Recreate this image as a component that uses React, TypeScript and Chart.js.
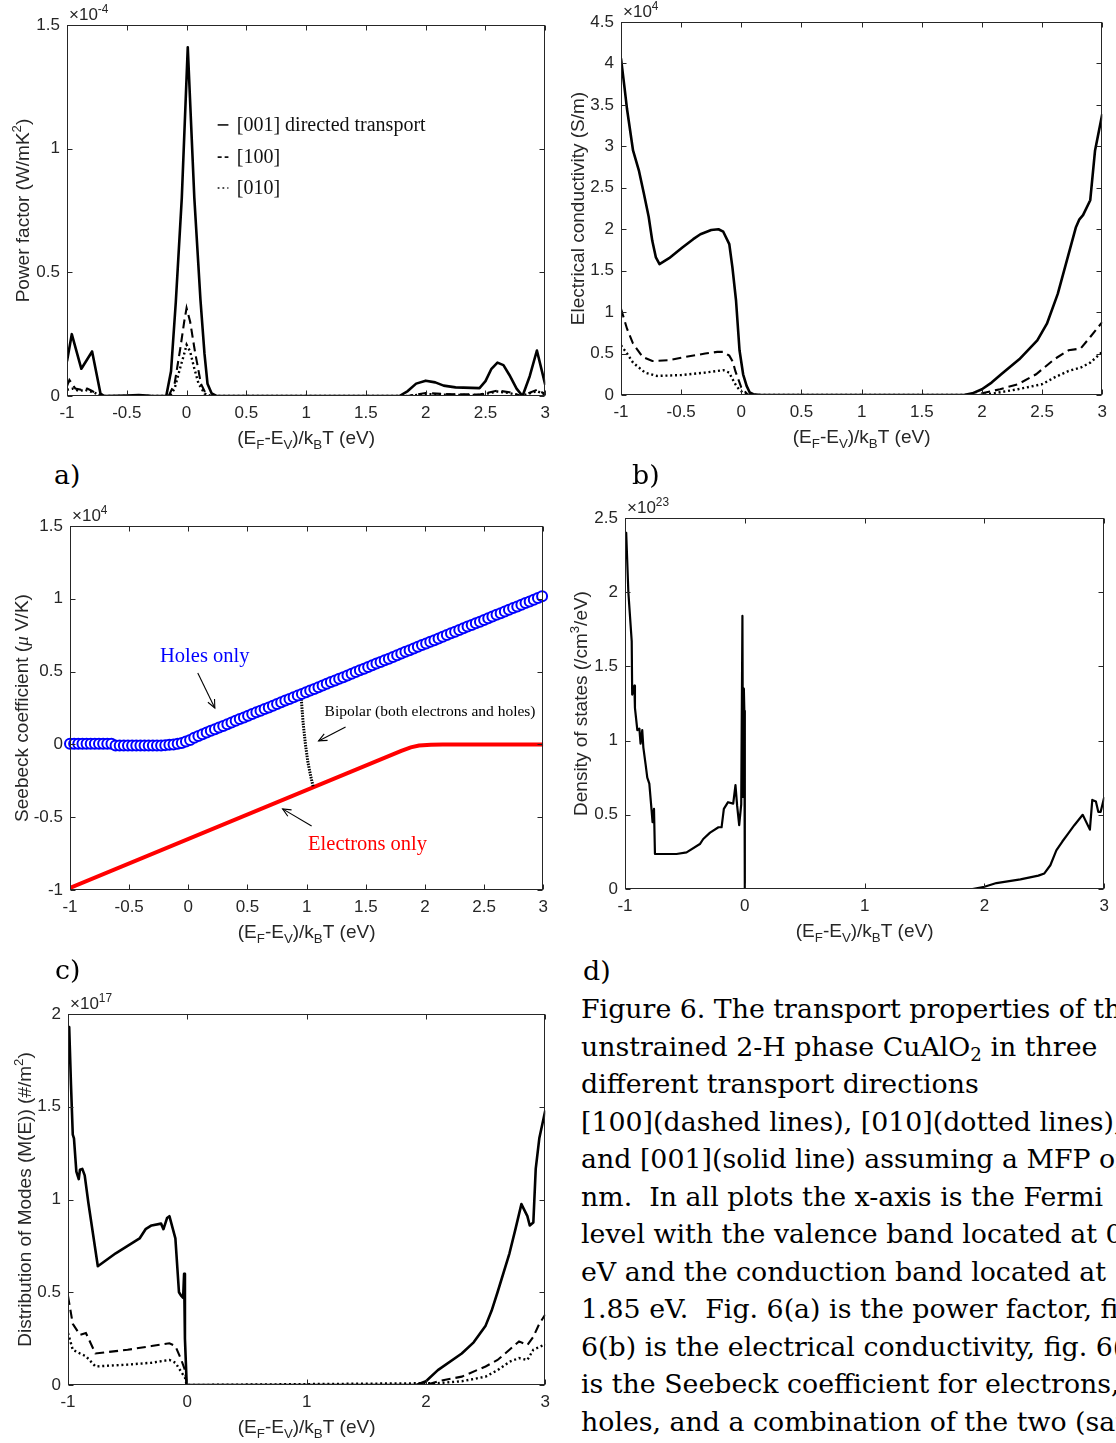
import React, { useEffect, useRef } from "react";
import { Chart, registerables } from "chart.js";

Chart.register(...registerables);

// ---------------- data ----------------
// shared tick values
const X_TICKS_HALF = [-1, -0.5, 0, 0.5, 1, 1.5, 2, 2.5, 3];
const X_TICKS_UNIT = [-1, 0, 1, 2, 3];
const Y_TICKS_A = [0, 0.5, 1, 1.5];
const Y_TICKS_B = [0, 0.5, 1, 1.5, 2, 2.5, 3, 3.5, 4, 4.5];
const Y_TICKS_C = [-1, -0.5, 0, 0.5, 1, 1.5];
const Y_TICKS_D = [0, 0.5, 1, 1.5, 2, 2.5];
const Y_TICKS_E = [0, 0.5, 1, 1.5, 2];

// (a) power factor, x1e-4 W/mK^2
const A_E_001 = [-1, -0.96, -0.88, -0.79, -0.72, -0.69, -0.5, -0.4, -0.3, -0.2, -0.17, -0.13, -0.09, -0.04, 0.01, 0.065, 0.116, 0.15, 0.175, 0.21, 0.25, 1.78, 1.85, 1.92, 2.0, 2.08, 2.15, 2.25, 2.45, 2.5, 2.55, 2.6, 2.65, 2.7, 2.76, 2.81, 2.87, 2.93, 3.0];
const A_PF_001 = [0.14, 0.25, 0.11, 0.18, 0.01, 0, 0.002, 0.004, 0.001, 0, 0, 0.1, 0.38, 0.8, 1.41, 0.8, 0.39, 0.17, 0.05, 0.01, 0, 0, 0.02, 0.05, 0.062, 0.055, 0.042, 0.035, 0.032, 0.06, 0.11, 0.135, 0.125, 0.085, 0.03, 0, 0.08, 0.184, 0.045];
const A_E_100 = [-1, -0.98, -0.93, -0.88, -0.83, -0.79, -0.72, -0.69, -0.15, -0.1, -0.05, -0.02, 0.0, 0.03, 0.07, 0.12, 0.16, 0.2, 1.85, 2.0, 2.15, 2.45, 2.6, 2.7, 2.8, 2.93, 3.0];
const A_PF_100 = [0.04, 0.065, 0.03, 0.025, 0.03, 0.02, 0.003, 0, 0, 0.05, 0.2, 0.3, 0.356, 0.3, 0.18, 0.05, 0.01, 0, 0, 0.012, 0.008, 0.006, 0.022, 0.015, 0, 0.025, 0.008];
const A_E_010 = [-1, -0.95, -0.9, -0.85, -0.78, -0.72, -0.69, -0.14, -0.1, -0.05, -0.02, 0.0, 0.03, 0.06, 0.1, 0.15, 0.2, 1.85, 2.0, 2.2, 2.45, 2.6, 2.7, 2.8, 2.93, 3.0];
const A_PF_010 = [0.025, 0.03, 0.02, 0.025, 0.015, 0.002, 0, 0, 0.03, 0.12, 0.17, 0.207, 0.18, 0.12, 0.05, 0.01, 0, 0, 0.008, 0.005, 0.004, 0.018, 0.012, 0, 0.02, 0.006];
const A_LEGEND_LABELS = ["[001] directed transport", "[100]", "[010]"];
const A_LEGEND_Y = [1.096, 0.966, 0.841];

// (b) electrical conductivity, x1e4 S/m
const B_E_001 = [-1, -0.97, -0.95, -0.9, -0.85, -0.81, -0.77, -0.74, -0.71, -0.68, -0.6, -0.49, -0.4, -0.34, -0.25, -0.19, -0.15, -0.1, -0.074, -0.044, -0.015, 0.015, 0.044, 0.07, 0.1, 0.16, 1.85, 1.92, 2.0, 2.08, 2.16, 2.31, 2.46, 2.54, 2.63, 2.72, 2.78, 2.81, 2.84, 2.9, 2.94, 3.0];
const B_S_001 = [4.06, 3.7, 3.45, 2.95, 2.7, 2.43, 2.15, 1.86, 1.66, 1.58, 1.65, 1.78, 1.88, 1.94, 1.99, 2.0, 1.97, 1.82, 1.54, 1.14, 0.54, 0.25, 0.11, 0.03, 0.01, 0, 0, 0.02, 0.07, 0.15, 0.25, 0.43, 0.66, 0.86, 1.22, 1.7, 2.02, 2.12, 2.17, 2.35, 2.95, 3.39];
const B_E_100 = [-1, -0.95, -0.9, -0.82, -0.74, -0.6, -0.5, -0.3, -0.2, -0.15, -0.1, -0.07, -0.05, -0.02, 0.0, 0.05, 0.1, 1.95, 2.0, 2.15, 2.3, 2.45, 2.6, 2.72, 2.82, 2.9, 3.0];
const B_S_100 = [1.04, 0.8, 0.62, 0.46, 0.41, 0.42, 0.45, 0.5, 0.52, 0.52, 0.475, 0.4, 0.29, 0.17, 0.09, 0.01, 0, 0, 0.02, 0.07, 0.13, 0.25, 0.43, 0.54, 0.56, 0.7, 0.88];
const B_E_010 = [-1, -0.95, -0.9, -0.8, -0.7, -0.5, -0.3, -0.15, -0.1, -0.08, -0.05, -0.02, 0.02, 0.05, 2.0, 2.1, 2.3, 2.5, 2.6, 2.72, 2.82, 2.9, 3.0];
const B_S_010 = [0.6, 0.5, 0.39, 0.27, 0.23, 0.24, 0.27, 0.3, 0.27, 0.21, 0.13, 0.07, 0.02, 0, 0, 0.02, 0.07, 0.13, 0.21, 0.29, 0.33, 0.39, 0.52];

// (c) Seebeck coefficient, x1e4 uV/K
const C_HOLES_E_START = -1;
const C_HOLES_E_STEP = 0.035;
const C_S_HOLES = [
  0.005, 0.005, 0.005, 0.005, 0.005, 0.005, 0.005, 0.005, 0.005, 0.005, 0.005,
  -0.007, -0.007, -0.007, -0.007, -0.007, -0.007, -0.007, -0.007, -0.007, -0.007, -0.007, -0.007,
  -0.005, -0.003, 0.0, 0.004, 0.01, 0.02, 0.03, 0.045,
  0.058, 0.07, 0.081, 0.093, 0.104, 0.116, 0.127, 0.139, 0.15, 0.162,
  0.174, 0.185, 0.197, 0.208, 0.22, 0.231, 0.243, 0.254, 0.266, 0.278,
  0.289, 0.301, 0.312, 0.324, 0.335, 0.347, 0.358, 0.37, 0.381, 0.393,
  0.405, 0.416, 0.428, 0.439, 0.451, 0.462, 0.474, 0.485, 0.497, 0.509,
  0.52, 0.532, 0.543, 0.555, 0.566, 0.578, 0.589, 0.601, 0.612, 0.624,
  0.636, 0.647, 0.659, 0.67, 0.682, 0.693, 0.705, 0.716, 0.728, 0.74,
  0.751, 0.763, 0.774, 0.786, 0.797, 0.809, 0.82, 0.832, 0.843, 0.855,
  0.867, 0.878, 0.89, 0.901, 0.913, 0.924, 0.936, 0.947, 0.959, 0.971,
  0.982, 0.994, 1.005, 1.017,
];
const C_E_ELEC = [-1, 1.8, 1.88, 1.95, 2.05, 2.15, 3];
const C_S_ELEC = [-0.985, -0.045, -0.02, -0.008, -0.002, 0, 0];
const C_E_BIPOLAR = [0.955, 0.97, 0.99, 1.01, 1.035, 1.055];
const C_S_BIPOLAR = [0.31, 0.15, 0.0, -0.12, -0.22, -0.29];

// (d) density of states, x1e23 /cm^3/eV
const D_E = [-1, -0.99, -0.972, -0.944, -0.94, -0.922, -0.917, -0.897, -0.88, -0.87, -0.856, -0.847, -0.828, -0.814, -0.797, -0.778, -0.77, -0.758, -0.75, -0.57, -0.486, -0.375, -0.347, -0.29, -0.22, -0.194, -0.175, -0.14, -0.097, -0.078, -0.064, -0.047, -0.03, -0.02, -0.015, -0.008, -0.004, 0, 1.9, 2.0, 2.1, 2.3, 2.45, 2.5, 2.55, 2.6, 2.65, 2.7, 2.75, 2.82, 2.88, 2.9, 2.93, 2.95, 2.97, 3.0];
const D_DOS = [2.37, 2.4, 2.0, 1.67, 1.31, 1.37, 1.22, 1.07, 1.08, 0.98, 1.07, 0.955, 0.84, 0.75, 0.71, 0.53, 0.45, 0.54, 0.236, 0.236, 0.247, 0.303, 0.337, 0.38, 0.416, 0.416, 0.54, 0.585, 0.575, 0.7, 0.56, 0.43, 0.57, 1.84, 0.62, 1.35, 1.2, 0, 0, 0.015, 0.04, 0.065, 0.09, 0.105, 0.16, 0.26, 0.32, 0.375, 0.43, 0.5, 0.4, 0.6, 0.59, 0.52, 0.52, 0.62];

// (e) distribution of modes, x1e17 #/m^2
const E_E_001 = [-1, -0.99, -0.975, -0.96, -0.95, -0.93, -0.91, -0.9, -0.88, -0.86, -0.83, -0.75, -0.6, -0.45, -0.4, -0.35, -0.3, -0.22, -0.2, -0.17, -0.15, -0.1, -0.07, -0.05, -0.035, -0.027, -0.02, -0.005, 1.92, 2.0, 2.1, 2.3, 2.4, 2.5, 2.55, 2.6, 2.7, 2.75, 2.8, 2.85, 2.87, 2.9, 2.92, 2.95, 3.0];
const E_M_001 = [1.91, 1.93, 1.62, 1.35, 1.33, 1.15, 1.11, 1.16, 1.165, 1.13, 0.985, 0.64, 0.71, 0.77, 0.79, 0.84, 0.86, 0.87, 0.84, 0.9, 0.91, 0.79, 0.5, 0.48, 0.47, 0.6, 0.25, 0, 0, 0.02, 0.08, 0.17, 0.23, 0.32, 0.4, 0.5, 0.71, 0.84, 0.975, 0.91, 0.86, 0.876, 1.165, 1.33, 1.48];
const E_E_100 = [-1, -0.96, -0.9, -0.85, -0.77, -0.5, -0.3, -0.15, -0.1, -0.05, -0.02, -0.005, 2.0, 2.1, 2.3, 2.5, 2.6, 2.7, 2.78, 2.85, 2.9, 2.95, 3.0];
const E_M_100 = [0.48, 0.33, 0.27, 0.28, 0.17, 0.19, 0.21, 0.225, 0.21, 0.135, 0.08, 0, 0, 0.02, 0.045, 0.1, 0.135, 0.19, 0.235, 0.215, 0.26, 0.33, 0.38];
const E_E_010 = [-1, -0.96, -0.9, -0.85, -0.77, -0.5, -0.3, -0.15, -0.1, -0.05, -0.02, -0.005, 2.1, 2.3, 2.5, 2.6, 2.7, 2.78, 2.85, 2.9, 3.0];
const E_M_010 = [0.28, 0.19, 0.17, 0.155, 0.1, 0.11, 0.12, 0.135, 0.12, 0.07, 0.04, 0, 0.01, 0.02, 0.045, 0.08, 0.125, 0.145, 0.135, 0.19, 0.22];

const CAPTION_LINES = [
  "Figure 6. The transport properties of the",
  "unstrained 2-H phase CuAlO|2| in three",
  "different transport directions",
  "[100](dashed lines), [010](dotted lines),",
  "and [001](solid line) assuming a MFP of",
  "nm.  In all plots the x-axis is the Fermi",
  "level with the valence band located at 0",
  "eV and the conduction band located at",
  "1.85 eV.  Fig. 6(a) is the power factor, fig.",
  "6(b) is the electrical conductivity, fig. 6(c)",
  "is the Seebeck coefficient for electrons,",
  "holes, and a combination of the two (same",
];
const PANEL_LABELS = ["a)", "b)", "c)", "d)"];

// ---------------- styling / layout ----------------
const AXIS_FONT = '"Liberation Sans", Arial, Helvetica, sans-serif';
const SERIF_FONT = '"Liberation Serif", "Times New Roman", serif';
const CAPTION_FONT = '"DejaVu Serif", serif';
const AXIS_COLOR = "#262626";
const AX_W = 66;
const AX_H = 58;
const PAD_T = 28;
const PAD_R = 10;

type Part = { t: string; s?: "sub" | "sup"; it?: boolean; serif?: boolean };

const X_TITLE: Part[] = [
  { t: "(E" }, { t: "F", s: "sub" }, { t: "-E" }, { t: "V", s: "sub" },
  { t: ")/k" }, { t: "B", s: "sub" }, { t: "T (eV)" },
];

function partFont(p: Part, size: number) {
  const sz = p.s ? size * 0.7 : size;
  return `${p.it ? "italic " : ""}${sz}px ${p.serif ? SERIF_FONT : AXIS_FONT}`;
}

function drawRich(ctx: CanvasRenderingContext2D, parts: Part[], x: number, y: number, size: number, align: "left" | "center") {
  let w = 0;
  for (const p of parts) {
    ctx.font = partFont(p, size);
    w += ctx.measureText(p.t).width;
  }
  let cx = align === "center" ? x - w / 2 : x;
  ctx.textAlign = "left";
  ctx.textBaseline = "alphabetic";
  for (const p of parts) {
    ctx.font = partFont(p, size);
    const dy = p.s === "sub" ? size * 0.28 : p.s === "sup" ? -size * 0.42 : 0;
    ctx.fillText(p.t, cx, y + dy);
    cx += ctx.measureText(p.t).width;
  }
}

function arrow(ctx: CanvasRenderingContext2D, x0: number, y0: number, x1: number, y1: number) {
  ctx.beginPath();
  ctx.moveTo(x0, y0);
  ctx.lineTo(x1, y1);
  ctx.stroke();
  const ang = Math.atan2(y1 - y0, x1 - x0);
  const L = 9;
  const sp = 0.42;
  ctx.beginPath();
  ctx.moveTo(x1 - L * Math.cos(ang - sp), y1 - L * Math.sin(ang - sp));
  ctx.lineTo(x1, y1);
  ctx.lineTo(x1 - L * Math.cos(ang + sp), y1 - L * Math.sin(ang + sp));
  ctx.stroke();
}

const pts = (xs: number[], ys: number[]) => xs.map((x, i) => ({ x, y: ys[i] }));

const solid = (xs: number[], ys: number[]) => ({
  data: pts(xs, ys), borderColor: "#000", borderWidth: 2.6, pointRadius: 0, fill: false,
  borderJoinStyle: "round", tension: 0,
});
const dashed = (xs: number[], ys: number[]) => ({
  data: pts(xs, ys), borderColor: "#000", borderWidth: 2.1, borderDash: [9, 5], pointRadius: 0, fill: false, tension: 0,
});
const dotted = (xs: number[], ys: number[]) => ({
  data: pts(xs, ys), borderColor: "#000", borderWidth: 2.4, borderDash: [2, 2.8], pointRadius: 0, fill: false, tension: 0,
});

interface PanelSpec {
  plot: { l: number; t: number; r: number; b: number };
  yMin: number;
  yMax: number;
  xTicks: number[];
  yTicks: number[];
  datasets: any[];
  exp: Part[];
  yTitle: Part[];
  yTitleOff: number;
  extra?: (ctx: CanvasRenderingContext2D, chart: any) => void;
}

const fmt = (v: any) => String(Math.round(Number(v) * 1000) / 1000);

function overlayPlugin(spec: PanelSpec) {
  return {
    id: "matlabOverlay",
    afterDraw(chart: any) {
      const ctx: CanvasRenderingContext2D = chart.ctx;
      const a = chart.chartArea;
      const xs = chart.scales.x;
      const ys = chart.scales.y;
      ctx.save();
      ctx.strokeStyle = AXIS_COLOR;
      ctx.lineWidth = 1;
      const L = Math.round(a.left) + 0.5;
      const R = Math.round(a.right) - 0.5;
      const T = Math.round(a.top) + 0.5;
      const B = Math.round(a.bottom) - 0.5;
      ctx.strokeRect(L, T, R - L, B - T);
      ctx.beginPath();
      for (const tk of xs.ticks) {
        const px = Math.round(xs.getPixelForValue(tk.value)) + 0.5;
        ctx.moveTo(px, B); ctx.lineTo(px, B - 5);
        ctx.moveTo(px, T); ctx.lineTo(px, T + 5);
      }
      for (const tk of ys.ticks) {
        const py = Math.round(ys.getPixelForValue(tk.value)) + 0.5;
        ctx.moveTo(L, py); ctx.lineTo(L + 5, py);
        ctx.moveTo(R, py); ctx.lineTo(R - 5, py);
      }
      ctx.stroke();
      ctx.fillStyle = AXIS_COLOR;
      drawRich(ctx, spec.exp, a.left + 2, a.top - 5, 17, "left");
      drawRich(ctx, X_TITLE, (a.left + a.right) / 2, a.bottom + 47.5, 19, "center");
      ctx.translate(a.left - spec.yTitleOff + 7, (a.top + a.bottom) / 2);
      ctx.rotate(-Math.PI / 2);
      drawRich(ctx, spec.yTitle, 0, 0, 19, "center");
      ctx.restore();
      if (spec.extra) {
        ctx.save();
        spec.extra(ctx, chart);
        ctx.restore();
      }
    },
  };
}

function buildConfig(spec: PanelSpec): any {
  const tickFont = { family: AXIS_FONT, size: 17 };
  return {
    type: "line",
    data: { datasets: spec.datasets },
    options: {
      animation: false,
      responsive: false,
      maintainAspectRatio: false,
      devicePixelRatio: 1,
      events: [],
      layout: { padding: { left: 0, top: PAD_T, right: PAD_R, bottom: 0 } },
      plugins: { legend: { display: false }, tooltip: { enabled: false } },
      scales: {
        x: {
          type: "linear", min: -1, max: 3,
          afterBuildTicks: (s: any) => { s.ticks = spec.xTicks.map((v) => ({ value: v })); },
          ticks: { autoSkip: false, maxRotation: 0, minRotation: 0, padding: 7, color: AXIS_COLOR, font: tickFont, callback: fmt },
          grid: { display: false, drawTicks: false },
          border: { display: false },
          afterFit: (s: any) => { s.height = AX_H; },
        },
        y: {
          type: "linear", min: spec.yMin, max: spec.yMax,
          afterBuildTicks: (s: any) => { s.ticks = spec.yTicks.map((v) => ({ value: v })); },
          ticks: { autoSkip: false, padding: 7, color: AXIS_COLOR, font: tickFont, callback: fmt },
          grid: { display: false, drawTicks: false },
          border: { display: false },
          afterFit: (s: any) => { s.width = AX_W; },
        },
      },
    },
    plugins: [overlayPlugin(spec)],
  };
}

const PANEL_A: PanelSpec = {
  plot: { l: 67, t: 25, r: 547, b: 396 },
  yMin: 0, yMax: 1.5, xTicks: X_TICKS_HALF, yTicks: Y_TICKS_A,
  datasets: [solid(A_E_001, A_PF_001), dashed(A_E_100, A_PF_100), dotted(A_E_010, A_PF_010)],
  exp: [{ t: "×10" }, { t: "-4", s: "sup" }],
  yTitle: [{ t: "Power factor (W/mK" }, { t: "2", s: "sup" }, { t: ")" }],
  yTitleOff: 45,
  extra: (ctx, chart) => {
    const xs = chart.scales.x;
    const ys = chart.scales.y;
    const dashes = [[], [4, 3], [1.8, 3]];
    ctx.strokeStyle = "#111";
    ctx.fillStyle = "#111";
    A_LEGEND_LABELS.forEach((label, i) => {
      const y = ys.getPixelForValue(A_LEGEND_Y[i]);
      ctx.lineWidth = 1.6;
      ctx.setLineDash(dashes[i]);
      ctx.beginPath();
      ctx.moveTo(xs.getPixelForValue(0.26), y);
      ctx.lineTo(xs.getPixelForValue(0.35), y);
      ctx.stroke();
      ctx.setLineDash([]);
      ctx.font = `20px ${SERIF_FONT}`;
      ctx.textAlign = "left";
      ctx.textBaseline = "middle";
      ctx.fillText(label, xs.getPixelForValue(0.42), y + 1);
    });
  },
};

const PANEL_B: PanelSpec = {
  plot: { l: 621, t: 22, r: 1104, b: 395 },
  yMin: 0, yMax: 4.5, xTicks: X_TICKS_HALF, yTicks: Y_TICKS_B,
  datasets: [solid(B_E_001, B_S_001), dashed(B_E_100, B_S_100), dotted(B_E_010, B_S_010)],
  exp: [{ t: "×10" }, { t: "4", s: "sup" }],
  yTitle: [{ t: "Electrical conductivity (S/m)" }],
  yTitleOff: 44,
};

const PANEL_C: PanelSpec = {
  plot: { l: 70, t: 526, r: 545, b: 890 },
  yMin: -1, yMax: 1.5, xTicks: X_TICKS_HALF, yTicks: Y_TICKS_C,
  datasets: [
    {
      data: C_S_HOLES.map((y, k) => ({ x: Math.round((C_HOLES_E_START + k * C_HOLES_E_STEP) * 1000) / 1000, y })),
      showLine: false, pointStyle: "circle", pointRadius: 5, pointBorderWidth: 2,
      pointBorderColor: "#0000ff", pointBackgroundColor: "#ffffff", borderColor: "#0000ff", clip: false,
    },
    {
      data: pts(C_E_BIPOLAR, C_S_BIPOLAR), borderColor: "#000", borderWidth: 3, borderDash: [1.5, 1.2],
      pointRadius: 0, fill: false, tension: 0,
    },
    {
      data: pts(C_E_ELEC, C_S_ELEC), borderColor: "#ff0000", borderWidth: 4, pointRadius: 0, fill: false, tension: 0,
    },
  ],
  exp: [{ t: "×10" }, { t: "4", s: "sup" }],
  yTitle: [{ t: "Seebeck coefficient (" }, { t: "μ", it: true, serif: true }, { t: " V/K)" }],
  yTitleOff: 49,
  extra: (ctx, chart) => {
    const xs = chart.scales.x;
    const ys = chart.scales.y;
    const P = (x: number, y: number) => [xs.getPixelForValue(x), ys.getPixelForValue(y)];
    ctx.textBaseline = "middle";
    ctx.textAlign = "center";
    ctx.font = `20.5px ${SERIF_FONT}`;
    ctx.fillStyle = "#0000ff";
    let p = P(0.139, 0.6);
    ctx.fillText("Holes only", p[0], p[1]);
    ctx.fillStyle = "#ff0000";
    p = P(1.515, -0.69);
    ctx.fillText("Electrons only", p[0], p[1]);
    ctx.fillStyle = "#000";
    ctx.textAlign = "left";
    ctx.font = `15.5px ${SERIF_FONT}`;
    p = P(1.152, 0.22);
    ctx.fillText("Bipolar (both electrons and holes)", p[0], p[1]);
    ctx.strokeStyle = "#000";
    ctx.lineWidth = 1.1;
    let a0 = P(0.08, 0.49), a1 = P(0.224, 0.25);
    arrow(ctx, a0[0], a0[1], a1[0], a1[1]);
    a0 = P(1.329, 0.12); a1 = P(1.101, 0.024);
    arrow(ctx, a0[0], a0[1], a1[0], a1[1]);
    a0 = P(1.042, -0.56); a1 = P(0.797, -0.443);
    arrow(ctx, a0[0], a0[1], a1[0], a1[1]);
  },
};

const PANEL_D: PanelSpec = {
  plot: { l: 625, t: 518, r: 1106, b: 889 },
  yMin: 0, yMax: 2.5, xTicks: X_TICKS_UNIT, yTicks: Y_TICKS_D,
  datasets: [{ ...solid(D_E, D_DOS), borderWidth: 2.2 }],
  exp: [{ t: "×10" }, { t: "23", s: "sup" }],
  yTitle: [{ t: "Density of states (/cm" }, { t: "3", s: "sup" }, { t: "/eV)" }],
  yTitleOff: 45,
};

const PANEL_E: PanelSpec = {
  plot: { l: 68, t: 1014, r: 547, b: 1385 },
  yMin: 0, yMax: 2, xTicks: X_TICKS_UNIT, yTicks: Y_TICKS_E,
  datasets: [solid(E_E_001, E_M_001), dashed(E_E_100, E_M_100), dotted(E_E_010, E_M_010)],
  exp: [{ t: "×10" }, { t: "17", s: "sup" }],
  yTitle: [{ t: "Distribution of Modes (M(E)) (#/m" }, { t: "2", s: "sup" }, { t: ")" }],
  yTitleOff: 44,
};

const PANELS = [PANEL_A, PANEL_B, PANEL_C, PANEL_D, PANEL_E];
const LABEL_POS = [
  { x: 54, base: 484 },
  { x: 632, base: 484 },
  { x: 55, base: 979 },
  { x: 583, base: 980 },
];

function Panel({ spec }: { spec: PanelSpec }) {
  const ref = useRef<HTMLCanvasElement>(null);
  useEffect(() => {
    const chart = new Chart(ref.current as HTMLCanvasElement, buildConfig(spec));
    return () => chart.destroy();
  }, [spec]);
  const left = spec.plot.l - AX_W;
  const top = spec.plot.t - PAD_T;
  const w = spec.plot.r - spec.plot.l + AX_W + PAD_R;
  const h = spec.plot.b - spec.plot.t + PAD_T + AX_H;
  return (
    <canvas
      ref={ref}
      width={w}
      height={h}
      style={{ position: "absolute", left, top, width: w, height: h }}
    />
  );
}

function CaptionLine({ text }: { text: string }) {
  const parts = text.split("|");
  return (
    <div style={{ height: 37.55, lineHeight: "37.55px", whiteSpace: "pre" }}>
      {parts.map((p, i) =>
        i % 2 === 1 ? (
          <span key={i} style={{ fontSize: "0.68em", position: "relative", top: "0.28em" }}>{p}</span>
        ) : (
          <span key={i}>{p}</span>
        )
      )}
    </div>
  );
}

export default function App() {
  return (
    <div
      style={{
        position: "absolute", left: 0, top: 0, width: 1116, height: 1443,
        overflow: "hidden", background: "#fff",
      }}
    >
      {PANELS.map((s, i) => (
        <Panel key={i} spec={s} />
      ))}
      {PANEL_LABELS.map((t, i) => (
        <div
          key={t}
          style={{
            position: "absolute", left: LABEL_POS[i].x, top: LABEL_POS[i].base - 28,
            fontFamily: CAPTION_FONT, fontSize: 26.8, lineHeight: "37.55px", color: "#000",
          }}
        >
          {t}
        </div>
      ))}
      <div
        style={{
          position: "absolute", left: 581, top: 990, width: 535, overflow: "hidden",
          fontFamily: CAPTION_FONT, fontSize: 26.8, color: "#000",
        }}
      >
        {CAPTION_LINES.map((l, i) => (
          <CaptionLine key={i} text={l} />
        ))}
      </div>
    </div>
  );
}
